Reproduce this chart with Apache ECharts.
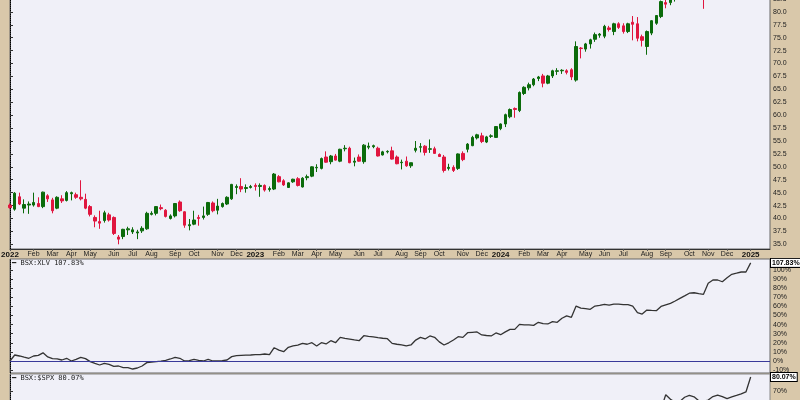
<!DOCTYPE html>
<html><head><meta charset="utf-8">
<script src="https://cdn.jsdelivr.net/npm/echarts@6/dist/echarts.min.js"></script>
<style>html,body{margin:0;padding:0;background:#d9c8aa;}#c{width:800px;height:400px;}</style>
</head><body><div id="c"></div>
<script>
// Weekly bars, index 0 = week of 2022-01-03
const monthTicks = [0,5,9,13,17,22,26,30,35,39,44,48,52,57,61,65,69,74,78,83,87,91,96,100,104,109,113,117,122,126,130,135,139,144,148,152,157];
const monthNames = ['2022','Feb','Mar','Apr','May','Jun','Jul','Aug','Sep','Oct','Nov','Dec',
  '2023','Feb','Mar','Apr','May','Jun','Jul','Aug','Sep','Oct','Nov','Dec',
  '2024','Feb','Mar','Apr','May','Jun','Jul','Aug','Sep','Oct','Nov','Dec','2025'];
const priceTicks = [35,37.5,40,42.5,45,47.5,50,52.5,55,57.5,60,62.5,65,67.5,70,72.5,75,77.5,80,82.5];
const rsXlvTicks = [-10,0,10,20,30,40,50,60,70,80,90,100];
const rsSpxTicks = [40,50,60,70];
const rsXlvLast = 107.83, rsSpxLast = 80.07;

const open = [42.6,41.8,44.2,42.0,42.6,42.6,42.9,42.3,44.4,43.6,
42.0,43.8,43.5,44.8,44.6,44.1,43.7,42.3,40.2,39.4,
39.6,40.7,40.2,36.4,36.5,37.8,37.4,37.2,37.6,38.0,
40.8,41.0,42.1,41.6,40.0,40.5,43.2,41.3,38.6,38.9,
40.2,40.2,40.8,43.0,41.6,42.3,42.8,43.8,46.0,46.2,
45.8,46.0,46.4,46.2,46.4,45.6,45.7,48.1,47.3,46.0,
47.1,47.7,46.1,47.9,48.2,49.8,49.7,51.9,51.0,52.1,
51.1,53.5,53.6,50.9,51.9,51.0,53.8,53.9,53.6,52.3,
52.9,53.1,51.9,50.8,51.1,50.2,53.2,53.8,54.0,53.4,
53.5,52.4,51.9,49.7,49.9,49.7,52.6,53.4,54.1,55.6,
56.0,54.8,55.9,55.7,57.4,58.3,59.7,61.3,60.9,64.2,
65.3,65.9,67.1,67.6,66.2,67.6,68.5,68.6,68.6,68.8,
66.8,73.0,72.8,73.8,74.7,75.5,75.3,76.9,76.2,77.7,
77.3,76.2,78.0,77.7,75.2,73.3,75.9,77.8,79.1,81.8,
81.8,83.5,84.2,84.5,84.9,85.8,86.2,88.0,84.2,88.6,
89.0,89.4,88.8,91.0,91.6,92.0,89.8,89.5];
const close = [42.1,44.9,42.8,42.7,42.8,43.1,42.3,45.1,43.8,41.5,
44.1,43.4,45.0,45.0,44.1,43.8,42.0,40.8,39.5,39.1,
41.1,39.7,37.1,36.0,37.9,38.0,37.8,37.4,38.1,41.0,
41.0,42.3,41.9,40.4,40.5,42.9,41.5,38.7,38.8,39.7,
40.0,40.5,43.1,41.5,42.4,42.9,44.1,46.6,46.2,45.7,
46.0,46.2,46.2,46.4,45.5,45.8,48.6,47.1,46.5,46.9,
47.6,46.4,47.8,48.1,50.0,49.9,51.6,50.9,52.1,51.3,
53.4,53.6,50.8,51.1,51.1,54.2,54.0,54.1,52.1,52.9,
53.0,51.5,50.6,50.9,50.2,50.8,53.6,53.9,52.8,53.5,
52.6,52.0,49.3,49.9,49.3,52.5,51.4,54.4,55.7,56.2,
54.9,55.8,56.0,57.8,58.3,60.1,61.1,61.1,64.4,65.4,
65.9,67.0,67.4,66.2,67.6,68.6,68.6,68.7,68.3,67.4,
73.3,72.9,73.8,74.6,75.6,75.7,77.2,76.6,77.7,77.0,
76.2,77.7,77.6,74.9,74.5,76.2,78.3,79.3,82.0,81.5,
83.5,84.2,84.5,84.9,85.8,86.4,88.3,84.0,88.6,89.2,
89.5,88.8,91.0,91.8,92.0,90.0,89.4,94.0];
const high = [42.9,45.1,45.0,43.7,43.3,45.0,44.1,45.2,44.7,44.0,
44.3,44.5,45.3,45.2,45.0,47.4,44.8,42.6,40.6,41.5,
41.5,41.1,40.4,36.8,38.0,38.4,38.3,37.8,38.5,41.3,
41.4,42.4,42.7,41.8,40.8,43.0,43.5,41.4,39.9,41.5,
40.7,42.3,43.2,43.3,43.8,43.1,44.3,46.7,46.6,47.8,
46.6,46.5,46.8,46.8,46.6,46.2,48.8,48.4,47.6,47.0,
47.7,48.0,48.0,48.5,50.1,50.5,51.8,53.0,52.3,52.5,
53.5,54.2,53.9,51.8,52.4,54.4,54.7,54.3,53.9,53.1,
53.2,53.9,52.2,51.4,52.0,50.8,55.0,54.6,54.2,55.3,
53.9,52.6,52.3,50.6,50.3,52.6,53.0,54.6,56.0,56.4,
56.6,56.0,56.3,57.9,58.4,60.3,61.3,61.5,64.6,65.6,
66.3,67.2,67.6,68.0,67.8,68.8,69.1,68.9,68.9,69.1,
74.3,73.2,74.0,74.8,76.0,75.9,77.5,77.3,77.9,78.0,
77.8,77.9,79.2,79.0,75.6,76.4,78.4,79.4,82.2,82.5,
84.0,84.5,85.0,85.6,86.0,87.0,88.8,88.5,89.0,90.0,
90.5,90.2,91.5,92.5,92.8,92.6,90.8,94.5];
const low = [41.9,41.5,42.6,41.0,40.9,42.3,42.2,42.0,43.2,41.0,
41.8,43.0,43.3,43.5,43.8,43.5,41.8,40.4,38.3,38.0,
39.2,39.4,36.8,35.0,36.0,36.8,37.0,36.0,37.2,37.8,
40.6,40.6,41.6,40.2,39.8,40.2,41.3,38.2,37.7,38.7,
38.6,39.8,40.5,41.2,40.8,42.1,42.6,43.6,44.7,45.1,
45.0,45.8,45.4,44.2,45.2,45.2,45.5,47.0,46.3,45.9,
46.9,46.2,46.0,47.4,48.0,49.0,49.5,50.8,50.5,51.2,
50.9,53.0,50.7,50.1,51.0,50.6,53.4,53.6,52.0,52.2,
52.6,51.4,50.5,49.5,50.0,49.8,52.8,52.8,52.2,52.7,
52.6,51.9,48.9,49.3,49.0,49.4,51.1,52.8,54.0,55.3,
54.6,54.6,55.6,55.6,57.1,57.7,59.4,59.5,60.6,63.9,
64.8,65.6,66.6,65.4,66.0,67.2,67.8,68.0,67.9,66.8,
66.5,71.0,72.3,72.9,74.2,75.0,74.9,76.2,75.5,76.7,
75.8,75.9,74.5,74.3,73.3,71.7,75.5,77.5,78.8,80.7,
81.3,82.0,83.3,83.6,84.0,84.6,85.4,80.6,83.8,87.5,
87.8,88.0,88.5,90.0,90.8,89.5,88.6,89.0];

const rsXlv = [0,6.6,5.5,4.2,3.0,5.5,6.2,9.0,4.5,2.6,
2.3,1.1,3.0,0.0,1.8,4.0,2.6,-0.7,-2.6,-4.4,
-2.6,-3.7,-5.9,-5.5,-7.3,-7.3,-8.8,-7.7,-5.5,-1.8,
-1.1,-0.6,-0.2,0.7,2.2,4.0,3.0,0,0.4,1.8,
0.7,0,1.8,0,0,0.5,1.1,4.8,5.8,6.2,
6.5,6.6,7.0,7.0,7.7,7.0,14.6,12.0,10.2,15.0,
16.5,17.5,19.4,18.4,20.1,16.5,20.1,18.7,22.3,20.1,
26.0,24.9,24.0,23.1,22.3,27.8,27.1,26.5,25.6,25.0,
24.5,19.4,18.4,17.6,16.5,17.6,23.0,26.0,24.2,27.5,
26.0,21.0,17.6,20.0,23.1,26.7,26.0,31.1,31.5,31.9,
28.6,28.0,27.5,30.8,28.9,32.0,34.8,34.8,40.3,39.8,
39.6,39.2,42.5,41.0,40.7,43.2,42.5,47.0,49.5,48.0,
60.4,58.2,57.5,56.8,60.4,61.2,62.3,61.5,62.6,62.4,
62.0,61.9,60.4,53.1,51.6,56.0,55.6,55.3,60.0,61.8,
63.4,65.9,68.8,71.5,74.5,75.0,74.0,73.3,85.5,89.0,
89.0,87.1,91.5,95.3,96.5,97.8,97.8,107.83];

const rsSpx = [0,4,3,2,1,3,4,7,4,3,2,1,3,
1,2,5,4,2,1,0,2,1,0,-1,0,1,
0,1,2,3,4,5,6,8,10,12,11,9,10,
9,10,11,10,11,13,12,14,16,17,18,19,20,
20,19,18,18,24,21,20,23,25,26,28,27,29,
26,28,27,30,28,33,31,30,29,29,33,32,31,
30,29,28,24,23,22,21,22,26,28,27,30,29,
25,23,25,27,30,29,33,33,33,30,29,28,31,
30,32,34,34,38,37,36,35,37,35,34,36,35,
39,40,39,49,47,46,45,48,48,49,48,48,47,
48,47,46,45,44,49,50,51,57,
67.3,64.0,62.0,62.5,65.5,66.8,65.8,63.0,62.5,63.5,66.0,67.1,66.0,64.5,65.7,66.8,68.0,69.3,80.07];

const TAN = '#d9c8aa', PLOT = '#f0f0f8', GREEN = '#0b6b0b', RED = '#e0163f';
const FONT = 'Liberation Sans';
const XMAX = 161.1;

const candleData = open.map((o, i) => [i, o, close[i], low[i], high[i]]);
const xlvData = rsXlv.map((v, i) => [i, v]);
const spxData = rsSpx.map((v, i) => [i, v]);

const chart = echarts.init(document.getElementById('c'));
const boxLabel = {show: true, position: 'end', distance: 1, backgroundColor: '#fff', borderColor: '#000', borderWidth: 1,
  padding: [1, 1, 0, 1], fontSize: 7, fontWeight: 'bold', color: '#000', fontFamily: FONT, opacity: 1};
const hiddenLine = {color: 'rgba(0,0,0,0)', width: 1, type: 'solid'};
const yLabel = {fontSize: 7, color: '#222', fontFamily: FONT, margin: 3};
const yLine = {show: true, lineStyle: {color: '#000', type: 'dotted', width: 1}};
const yTick = {show: true, length: 3, lineStyle: {color: '#333'}};
const legendText = {fontSize: 7, fontFamily: 'DejaVu Sans Mono', color: '#222', fontWeight: 'normal'};

chart.setOption({
  animation: false,
  backgroundColor: TAN,
  title: [
    {text: '\u2501 BSX:XLV ' + rsXlvLast + '%', left: 12, top: 260, padding: 0, textStyle: legendText},
    {text: '\u2501 BSX:$SPX ' + rsSpxLast + '%', left: 12, top: 375, padding: 0, textStyle: legendText}
  ],
  grid: [
    {left: 10, right: 30, top: -1, height: 250, outerBoundsMode: 'none', show: true, backgroundColor: PLOT, borderWidth: 1, borderColor: '#666'},
    {left: 10, right: 30, top: 259, height: 114, outerBoundsMode: 'none', show: true, backgroundColor: PLOT, borderWidth: 1, borderColor: '#666'},
    {left: 10, right: 30, top: 374, height: 60, outerBoundsMode: 'none', show: true, backgroundColor: PLOT, borderWidth: 1, borderColor: '#888'}
  ],
  xAxis: [
    {type: 'value', gridIndex: 0, min: 0, max: XMAX, splitLine: {show: false},
     axisLine: {show: true, lineStyle: {color: '#333'}},
     axisTick: {show: true, length: 2, customValues: monthTicks, lineStyle: {color: '#555'}},
     axisLabel: {customValues: monthTicks, margin: 2, fontSize: 7, color: '#222', fontFamily: FONT,
       formatter: v => { const s = monthNames[monthTicks.indexOf(Math.round(v))] || ''; return /^\d{4}$/.test(s) ? '{y|' + s + '}' : s; },
       rich: {y: {fontWeight: 'bold', fontSize: 8, color: '#111', fontFamily: FONT}}}},
    {type: 'value', gridIndex: 1, min: 0, max: XMAX, show: false},
    {type: 'value', gridIndex: 2, min: 0, max: XMAX, show: false}
  ],
  yAxis: [
    {type: 'value', gridIndex: 0, position: 'right', min: 34.09, max: 82.5, splitLine: {show: false},
     axisLine: yLine, axisTick: Object.assign({customValues: priceTicks}, yTick),
     axisLabel: Object.assign({customValues: priceTicks, formatter: v => v.toFixed(1)}, yLabel)},
    {type: 'value', gridIndex: 1, position: 'right', min: -13.19, max: 112.09, splitLine: {show: false},
     axisLine: yLine, axisTick: Object.assign({customValues: rsXlvTicks}, yTick),
     axisLabel: Object.assign({customValues: rsXlvTicks, formatter: v => v + '%'}, yLabel)},
    {type: 'value', gridIndex: 2, position: 'right', min: 39.06, max: 82.23, splitLine: {show: false},
     axisLine: yLine, axisTick: Object.assign({customValues: rsSpxTicks}, yTick),
     axisLabel: Object.assign({customValues: rsSpxTicks, formatter: v => v + '%'}, yLabel)}
  ],
  series: [
    {type: 'candlestick', xAxisIndex: 0, yAxisIndex: 0, data: candleData, barWidth: 3, clip: true,
     itemStyle: {color: GREEN, color0: RED, borderColor: GREEN, borderColor0: RED, borderWidth: 1}},
    {type: 'line', xAxisIndex: 1, yAxisIndex: 1, data: xlvData, symbol: 'none', clip: true,
     lineStyle: {color: '#333', width: 1.3},
     markLine: {silent: true, symbol: 'none', label: {show: false},
       lineStyle: {color: '#3a3a9a', width: 1, type: 'solid'},
       data: [{yAxis: 0}]}},
    {type: 'line', xAxisIndex: 1, yAxisIndex: 1, data: [], symbol: 'none', silent: true,
     markLine: {silent: true, symbol: 'none', lineStyle: hiddenLine,
       data: [{yAxis: rsXlvLast}], label: Object.assign({formatter: rsXlvLast + '%'}, boxLabel)}},
    {type: 'line', xAxisIndex: 2, yAxisIndex: 2, data: spxData, symbol: 'none', clip: true,
     lineStyle: {color: '#333', width: 1.3},
     markLine: {silent: true, symbol: 'none', lineStyle: hiddenLine,
       data: [{yAxis: rsSpxLast}], label: Object.assign({formatter: rsSpxLast + '%'}, boxLabel)}}
  ]
});
</script></body></html>
